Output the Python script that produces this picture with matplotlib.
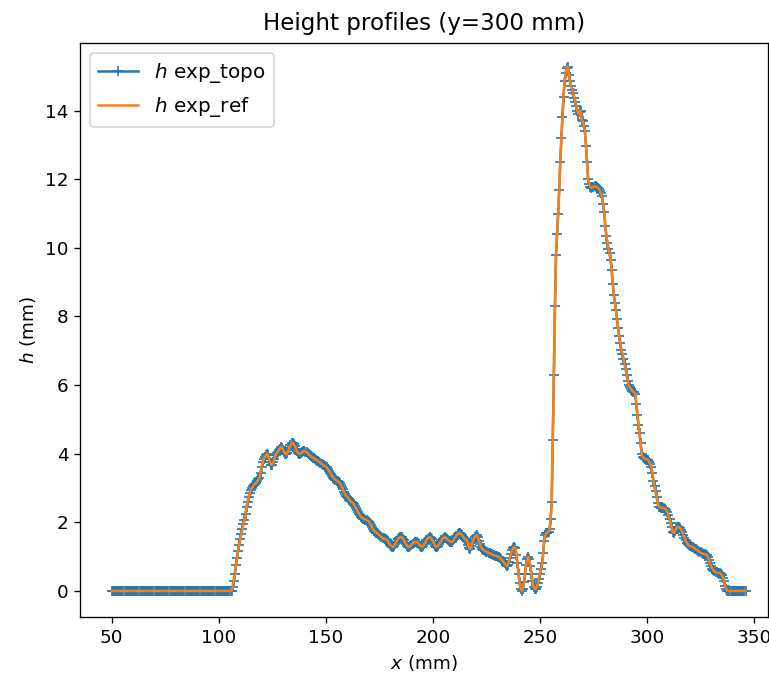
import matplotlib
matplotlib.use("Agg")
import matplotlib.pyplot as plt
import numpy as np

# profile sampled every 0.5 mm from x = 50 mm to x = 346 mm
x_start = 50.0
x_step = 0.5

h_left_flat = [0.0] * 112          # 50.0 .. 105.5 mm
h_profile = [                      # 106.0 .. 337.5 mm
    0.0, 0.1, 0.3, 0.5, 0.75, 0.95, 1.15, 1.35, 1.5, 1.65,
    1.8, 1.95, 2.07, 2.25, 2.45, 2.6, 2.75, 2.86, 2.95, 3.0,
    3.05, 3.1, 3.12, 3.15, 3.2, 3.25, 3.3, 3.45, 3.6, 3.75,
    3.85, 3.9, 3.95, 4.0, 3.95, 3.85, 3.75, 3.68, 3.67, 3.75,
    3.85, 3.95, 4.02, 4.05, 4.1, 4.15, 4.2, 4.18, 4.12, 4.05,
    4.0, 3.98, 4.02, 4.1, 4.18, 4.25, 4.3, 4.32, 4.28, 4.22,
    4.15, 4.08, 4.02, 4.0, 4.0, 4.02, 4.05, 4.08, 4.08, 4.06,
    4.05, 4.02, 3.98, 3.95, 3.92, 3.9, 3.88, 3.86, 3.84, 3.82,
    3.8, 3.78, 3.76, 3.73, 3.7, 3.68, 3.66, 3.64, 3.62, 3.6,
    3.55, 3.5, 3.45, 3.4, 3.35, 3.3, 3.27, 3.24, 3.21, 3.19,
    3.17, 3.15, 3.1, 3.03, 2.96, 2.88, 2.82, 2.77, 2.74, 2.7,
    2.66, 2.62, 2.59, 2.57, 2.53, 2.48, 2.42, 2.36, 2.3, 2.25,
    2.2, 2.16, 2.13, 2.11, 2.09, 2.08, 2.07, 2.05, 2.02, 1.98,
    1.93, 1.87, 1.81, 1.76, 1.72, 1.7, 1.68, 1.66, 1.63, 1.6,
    1.57, 1.55, 1.53, 1.52, 1.5, 1.49, 1.45, 1.4, 1.35, 1.31,
    1.29, 1.28, 1.32, 1.38, 1.44, 1.5, 1.54, 1.56, 1.57, 1.57,
    1.52, 1.47, 1.41, 1.36, 1.31, 1.28, 1.28, 1.31, 1.35, 1.38,
    1.41, 1.43, 1.43, 1.43, 1.4, 1.36, 1.32, 1.29, 1.28, 1.32,
    1.37, 1.42, 1.47, 1.52, 1.55, 1.57, 1.55, 1.5, 1.44, 1.38,
    1.32, 1.29, 1.28, 1.32, 1.37, 1.42, 1.47, 1.52, 1.55, 1.57,
    1.55, 1.52, 1.49, 1.46, 1.44, 1.43, 1.43, 1.47, 1.52, 1.57,
    1.61, 1.65, 1.68, 1.69, 1.67, 1.63, 1.58, 1.54, 1.51, 1.49,
    1.45, 1.35, 1.25, 1.22, 1.32, 1.42, 1.5, 1.57, 1.61, 1.63,
    1.56, 1.46, 1.36, 1.27, 1.22, 1.2, 1.18, 1.16, 1.14, 1.13,
    1.11, 1.1, 1.08, 1.07, 1.05, 1.04, 1.03, 1.02, 1.01, 1.0,
    0.98, 0.95, 0.92, 0.88, 0.84, 0.8, 0.76, 0.72, 0.75, 0.85,
    0.97, 1.09, 1.18, 1.25, 1.28, 1.25, 1.05, 0.8, 0.5, 0.22,
    0.05, 0.0, 0.05, 0.25, 0.5, 0.75, 0.93, 1.0, 0.92, 0.72,
    0.5, 0.28, 0.12, 0.05, 0.05, 0.12, 0.22, 0.35, 0.5, 0.65,
    0.8, 1.1, 1.45, 1.62, 1.68, 1.7, 1.72, 1.8, 2.1, 2.6,
    4.4, 6.3, 8.3, 9.8, 10.4, 11.0, 11.7, 12.5, 13.2, 13.8,
    14.4, 14.85, 15.1, 15.25, 15.28, 15.05, 14.85, 14.72, 14.6, 14.5,
    14.38, 14.25, 14.12, 13.98, 13.9, 13.97, 14.0, 13.72, 13.7, 13.55,
    13.4, 12.98, 12.5, 12.0, 11.85, 11.78, 11.75, 11.76, 11.78, 11.8,
    11.79, 11.77, 11.75, 11.72, 11.66, 11.59, 11.5, 11.28, 11.05, 10.65,
    10.35, 10.15, 9.98, 9.86, 9.65, 9.36, 8.95, 8.62, 8.4, 8.19,
    7.92, 7.65, 7.42, 7.22, 7.03, 6.9, 6.77, 6.62, 6.47, 6.3,
    6.12, 6.0, 5.93, 5.88, 5.84, 5.81, 5.79, 5.75, 5.45, 5.13,
    4.85, 4.6, 4.3, 4.0, 3.9, 3.87, 3.85, 3.84, 3.83, 3.82,
    3.76, 3.69, 3.62, 3.45, 3.2, 3.05, 2.9, 2.74, 2.56, 2.45,
    2.44, 2.43, 2.43, 2.42, 2.41, 2.39, 2.37, 2.3, 2.2, 2.1,
    1.98, 1.85, 1.73, 1.69, 1.74, 1.8, 1.85, 1.87, 1.85, 1.82,
    1.79, 1.72, 1.63, 1.54, 1.47, 1.41, 1.36, 1.33, 1.31, 1.3,
    1.29, 1.28, 1.26, 1.23, 1.21, 1.19, 1.16, 1.14, 1.12, 1.1,
    1.09, 1.08, 1.07, 1.06, 1.04, 0.98, 0.9, 0.8, 0.72, 0.65,
    0.6, 0.57, 0.55, 0.54, 0.53, 0.52, 0.52, 0.5, 0.45, 0.38,
    0.28, 0.15, 0.05, 0.0,
]
h_right_flat = [0.0] * 17          # 338.0 .. 346.0 mm

h_topo = np.array(h_left_flat + h_profile + h_right_flat)
h_ref = h_topo.copy()
x = x_start + x_step * np.arange(len(h_topo))

fig = plt.figure(figsize=(769 / 120, 687 / 120), dpi=120)
ax = fig.add_axes([80 / 769, 70 / 687, 688 / 769, 574 / 687])

ax.plot(x, h_topo, '+-', color='tab:blue', label='$h$ exp_topo')
ax.plot(x, h_ref, '-', color='tab:orange', label='$h$ exp_ref')

ax.set_xlim(35.2, 356.5)
ax.set_ylim(-0.76, 15.97)
ax.tick_params(labelsize=11)
ax.set_xlabel('$x$ (mm)', fontsize=11)
ax.set_ylabel('$h$ (mm)', fontsize=11)
ax.set_title('Height profiles (y=300 mm)', fontsize=13.8, pad=8)
ax.legend(loc='upper left', fontsize=12)

fig.savefig('out.png', dpi=120)
